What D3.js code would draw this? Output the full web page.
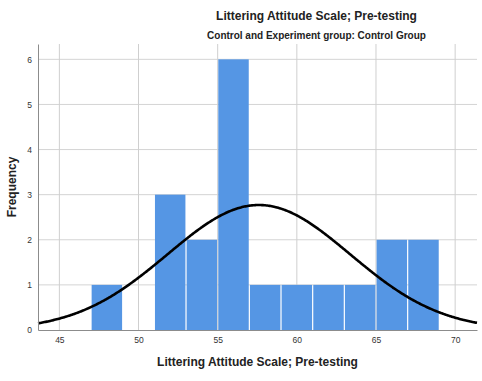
<!DOCTYPE html>
<html>
<head>
<meta charset="utf-8">
<script src="https://cdn.jsdelivr.net/npm/d3@7"></script>
<style>
  html, body { margin: 0; padding: 0; background: #fff; }
  svg { display: block; font-family: Arial, "Liberation Sans", sans-serif; }
</style>
</head>
<body>
<svg id="chart" width="482" height="381"></svg>
<script>
// Histogram bins (lower edge, upper edge) and counts
const binStarts = [47, 51, 53, 55, 57, 59, 61, 63, 65, 67];
const binWidth = 2;
const counts = [1, 3, 2, 6, 1, 1, 1, 1, 2, 2];

// Fitted normal curve parameters
const curveMean = 57.6;
const curveSD = 5.76;

const xTicks = [45, 50, 55, 60, 65, 70];
const yTicks = [0, 1, 2, 3, 4, 5, 6];

const titleText = "Littering Attitude Scale; Pre-testing";
const subtitleText = "Control and Experiment group: Control Group";
const xLabel = "Littering Attitude Scale; Pre-testing";
const yLabel = "Frequency";

const svg = d3.select("#chart");
const plot = { left: 38, right: 477, top: 44, bottom: 330 };

const x = d3.scaleLinear().domain([43.65, 71.38]).range([plot.left, plot.right]);
const y = d3.scaleLinear().domain([0, 6.34]).range([plot.bottom, plot.top]);

// Grid lines
const grid = svg.append("g");
grid.selectAll("line.h").data(yTicks.filter(d => d > 0)).join("line")
  .attr("x1", plot.left).attr("x2", plot.right)
  .attr("y1", d => y(d)).attr("y2", d => y(d))
  .attr("stroke", "#d4d4d4").attr("stroke-width", 1);
grid.selectAll("line.v").data(xTicks).join("line")
  .attr("x1", d => x(d)).attr("x2", d => x(d))
  .attr("y1", plot.top).attr("y2", plot.bottom)
  .attr("stroke", "#cfcfcf").attr("stroke-width", 1);

// Bars
const n = d3.sum(counts);
svg.append("g").selectAll("rect").data(binStarts.map((s, i) => ({ s, c: counts[i] }))).join("rect")
  .attr("x", d => x(d.s) + 0.6)
  .attr("width", d => x(d.s + binWidth) - x(d.s) - 1.2)
  .attr("y", d => y(d.c))
  .attr("height", d => y(0) - y(d.c))
  .attr("fill", "#5596e4");

// Normal curve scaled to counts
const peak = n * binWidth / (curveSD * Math.sqrt(2 * Math.PI));
const pts = d3.range(0, 401).map(i => {
  const v = x.domain()[0] + (x.domain()[1] - x.domain()[0]) * i / 400;
  const z = (v - curveMean) / curveSD;
  return [v, peak * Math.exp(-0.5 * z * z)];
});
svg.append("path")
  .attr("d", d3.line().x(d => x(d[0])).y(d => y(d[1])).curve(d3.curveBasis)(pts))
  .attr("fill", "none").attr("stroke", "#000").attr("stroke-width", 2.6);

// Axes
const xAxis = svg.append("g").attr("transform", `translate(0,${plot.bottom})`)
  .call(d3.axisBottom(x).tickValues(xTicks).tickSize(0).tickPadding(7).tickFormat(d3.format("d")));
const yAxis = svg.append("g").attr("transform", `translate(${plot.left},0)`)
  .call(d3.axisLeft(y).tickValues(yTicks).tickSize(0).tickPadding(6).tickFormat(d3.format("d")));
[xAxis, yAxis].forEach(a => {
  a.select(".domain").attr("stroke", "#8c8c8c").attr("stroke-width", 1);
  a.selectAll("text").attr("font-size", "8.5px").attr("fill", "#333").attr("font-family", "Arial, 'Liberation Sans', sans-serif");
});

// Titles
svg.append("text").attr("x", 316.5).attr("y", 20).attr("text-anchor", "middle")
  .attr("font-size", "12px").attr("font-weight", "bold").attr("fill", "#222").text(titleText);
svg.append("text").attr("x", 316.5).attr("y", 38.5).attr("text-anchor", "middle")
  .attr("font-size", "10px").attr("font-weight", "bold").attr("fill", "#222").text(subtitleText);
svg.append("text").attr("x", 257.5).attr("y", 366).attr("text-anchor", "middle")
  .attr("font-size", "12px").attr("font-weight", "bold").attr("fill", "#222").text(xLabel);
svg.append("text").attr("transform", "translate(16,187) rotate(-90)").attr("text-anchor", "middle")
  .attr("font-size", "12px").attr("font-weight", "bold").attr("fill", "#222").text(yLabel);
</script>
</body>
</html>
